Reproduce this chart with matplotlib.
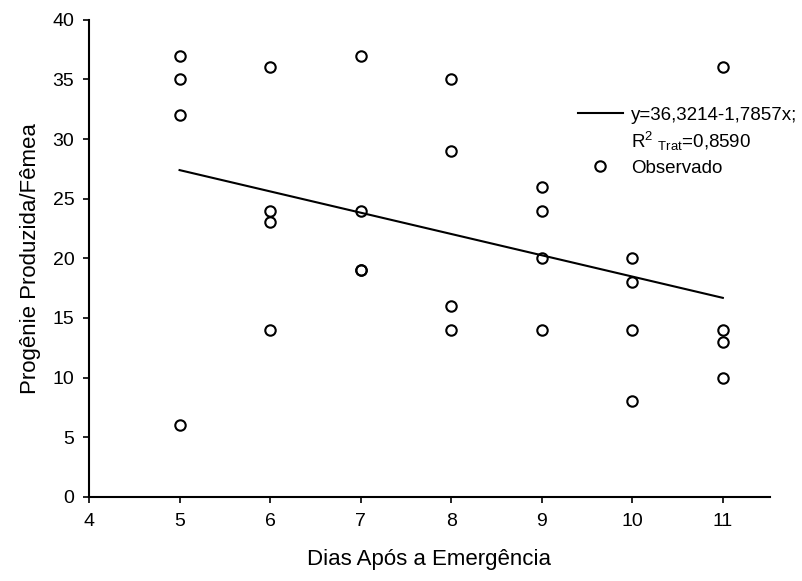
"""Progênie produzida por fêmea vs dias após a emergência."""

import matplotlib

matplotlib.use("Agg")
import matplotlib.pyplot as plt
from matplotlib.lines import Line2D

plt.rcParams["font.family"] = ["Liberation Sans", "DejaVu Sans"]
plt.rcParams["mathtext.fontset"] = "custom"
plt.rcParams["mathtext.rm"] = "Liberation Sans"
plt.rcParams["mathtext.it"] = "Liberation Sans"

dias = [5, 5, 5, 5,
        6, 6, 6, 6,
        7, 7, 7, 7,
        8, 8, 8, 8,
        9, 9, 9, 9,
        10, 10, 10, 10,
        11, 11, 11, 11]
progenie = [37, 35, 32, 6,
            36, 24, 23, 14,
            37, 24, 19, 19,
            35, 29, 16, 14,
            26, 24, 20, 14,
            20, 18, 14, 8,
            36, 14, 13, 10]

# fitted model shown in the legend
intercept = 36.3214
slope = -1.7857
fit_x = [5, 11]
fit_y = [intercept + slope * x for x in fit_x]

x_ticks = [4, 5, 6, 7, 8, 9, 10, 11]
y_ticks = [0, 5, 10, 15, 20, 25, 30, 35, 40]

fig = plt.figure(figsize=(8.02, 5.81), dpi=100)
ax = fig.add_axes([0.111, 0.145, 0.849, 0.821])

ax.plot(fit_x, fit_y, color="black", lw=1.5)
ax.plot(dias, progenie, linestyle="none", marker="o", markersize=7.5,
        markerfacecolor="none", markeredgecolor="black", markeredgewidth=1.5)

ax.set_xlim(4, 11.52)
ax.set_ylim(0, 40)
ax.set_xticks(x_ticks)
ax.set_yticks(y_ticks)
ax.tick_params(direction="out", length=4.5, width=1.2, labelsize=14,
               colors="black")
ax.tick_params(axis="x", pad=7)
ax.tick_params(axis="y", pad=6)
for side in ("top", "right"):
    ax.spines[side].set_visible(False)
for side in ("left", "bottom"):
    ax.spines[side].set_linewidth(1.5)

ax.set_xlabel("Dias Após a Emergência", fontsize=16, labelpad=14)
ax.set_ylabel("Progênie Produzida/Fêmea", fontsize=16, labelpad=8)

handles = [
    Line2D([], [], color="black", lw=1.5),
    Line2D([], [], linestyle="none", marker=None),
    Line2D([], [], linestyle="none", marker="o", markersize=7.5,
           markerfacecolor="none", markeredgecolor="black", markeredgewidth=1.5),
]
labels = [
    "y=36,3214-1,7857x;",
    r"R$^{2}$ $_{\mathrm{Trat}}$=0,8590",
    "Observado",
]
ax.legend(handles, labels, loc="upper left", bbox_to_anchor=(0.718, 0.818),
          frameon=False, fontsize=13.5, borderpad=0, borderaxespad=0,
          handlelength=2.4, handletextpad=0.45, labelspacing=0.35, numpoints=1)

fig.savefig("out.png", dpi=100)
